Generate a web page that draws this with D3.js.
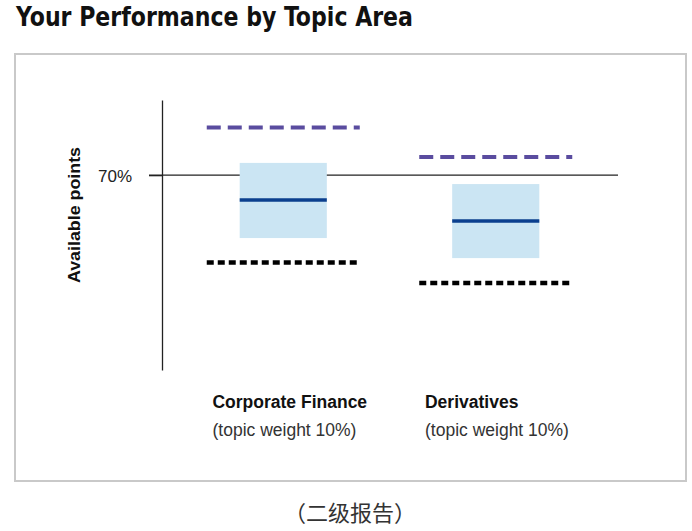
<!DOCTYPE html>
<html>
<head>
<meta charset="utf-8">
<script src="https://cdn.jsdelivr.net/npm/d3@7"></script>
<style>
  body { margin: 0; background: #fff; }
  svg { display: block; }
</style>
</head>
<body>
<svg id="chart" width="692" height="531"></svg>
<script>
// values are % of available points
const topics = ["Corporate Finance", "Derivatives"];
const weights = ["(topic weight 10%)", "(topic weight 10%)"];
const topScore = [87.1, 76.5];    // purple dashed line
const rangeHigh = [74.4, 66.8];   // top of blue box
const yourScore = [61.1, 53.5];   // dark blue line
const rangeLow = [47.4, 40.2];    // bottom of blue box
const passLine = [38.6, 31.3];    // black dotted line
const refTicks = [70];
const yMax = 97;

const svg = d3.select("#chart");

// title
svg.append("text")
  .attr("x", 16)
  .attr("y", 26)
  .attr("font-family", "DejaVu Sans Condensed, DejaVu Sans")
  .attr("font-weight", "bold")
  .attr("font-size", 26)
  .attr("fill", "#111")
  .attr("textLength", 397)
  .attr("lengthAdjust", "spacingAndGlyphs")
  .text("Your Performance by Topic Area");

// panel
svg.append("rect")
  .attr("x", 15).attr("y", 54)
  .attr("width", 671).attr("height", 427)
  .attr("fill", "#fff")
  .attr("stroke", "#c9c9c9")
  .attr("stroke-width", 2);

const axisX = 162;
const y = d3.scaleLinear().domain([0, yMax]).range([370, 100]);
const x = d3.scaleBand().domain(topics).range([177, 602]).padding(0);
const bw = x.bandwidth();
const cx = d => x(d) + bw / 2;

const g = svg.append("g");

// reference line at 70%
g.selectAll(".ref")
  .data(refTicks)
  .enter().append("line")
  .attr("class", "ref")
  .attr("x1", 149).attr("x2", 618)
  .attr("y1", d => y(d)).attr("y2", d => y(d))
  .attr("stroke", "#222")
  .attr("stroke-width", 1.3);

// y axis
const yAxis = g.append("g")
  .attr("transform", "translate(" + axisX + ",0)")
  .call(d3.axisLeft(y).tickValues(refTicks).tickSize(13).tickSizeOuter(0).tickPadding(17)
    .tickFormat(d => d + "%"));
yAxis.select(".domain").attr("stroke", "#222").attr("stroke-width", 1.3);
yAxis.selectAll(".tick line").attr("stroke", "#222").attr("stroke-width", 1.3);
yAxis.selectAll(".tick text")
  .attr("font-family", "Liberation Sans, Arial, sans-serif")
  .attr("font-size", 17)
  .attr("fill", "#222")
  .attr("dy", "0.4em");

svg.append("text")
  .attr("transform", "translate(80," + 215 + ") rotate(-90)")
  .attr("text-anchor", "middle")
  .attr("font-family", "Liberation Sans, Arial, sans-serif")
  .attr("font-weight", "bold")
  .attr("font-size", 16)
  .attr("fill", "#111")
  .attr("textLength", 136)
  .attr("lengthAdjust", "spacingAndGlyphs")
  .text("Available points");

const idx = topics.map((t, i) => i);

// boxes
g.selectAll(".box")
  .data(idx)
  .enter().append("rect")
  .attr("class", "box")
  .attr("x", i => cx(topics[i]) - bw * 0.205)
  .attr("width", bw * 0.41)
  .attr("y", i => y(rangeHigh[i]))
  .attr("height", i => y(rangeLow[i]) - y(rangeHigh[i]))
  .attr("fill", "#cbe5f3");

g.selectAll(".score")
  .data(idx)
  .enter().append("line")
  .attr("class", "score")
  .attr("x1", i => cx(topics[i]) - bw * 0.205)
  .attr("x2", i => cx(topics[i]) + bw * 0.205)
  .attr("y1", i => y(yourScore[i])).attr("y2", i => y(yourScore[i]))
  .attr("stroke", "#0b3f8e")
  .attr("stroke-width", 3.5);

g.selectAll(".top")
  .data(idx)
  .enter().append("line")
  .attr("class", "top")
  .attr("x1", i => cx(topics[i]) - bw * 0.36)
  .attr("x2", i => cx(topics[i]) + bw * 0.36)
  .attr("y1", i => y(topScore[i])).attr("y2", i => y(topScore[i]))
  .attr("stroke", "#5a4c9f")
  .attr("stroke-width", 4)
  .attr("stroke-dasharray", "14,7");

g.selectAll(".pass")
  .data(idx)
  .enter().append("line")
  .attr("class", "pass")
  .attr("x1", i => cx(topics[i]) - bw * 0.36)
  .attr("x2", i => cx(topics[i]) + bw * 0.36)
  .attr("y1", i => y(passLine[i])).attr("y2", i => y(passLine[i]))
  .attr("stroke", "#000")
  .attr("stroke-width", 4.5)
  .attr("stroke-dasharray", "7,4");

// category labels
g.selectAll(".cat")
  .data(idx)
  .enter().append("text")
  .attr("class", "cat")
  .attr("x", i => cx(topics[i]) - bw * 0.333)
  .attr("y", 408)
  .attr("font-family", "Liberation Sans, Arial, sans-serif")
  .attr("font-weight", "bold")
  .attr("font-size", 17.5)
  .attr("fill", "#111")
  .text(i => topics[i]);

g.selectAll(".wt")
  .data(idx)
  .enter().append("text")
  .attr("class", "wt")
  .attr("x", i => cx(topics[i]) - bw * 0.333)
  .attr("y", 436)
  .attr("font-family", "Liberation Sans, Arial, sans-serif")
  .attr("font-size", 17.5)
  .attr("fill", "#333")
  .text(i => weights[i]);

// caption
svg.append("text")
  .attr("x", 350)
  .attr("y", 521)
  .attr("text-anchor", "middle")
  .attr("font-family", "Noto Sans CJK SC")
  .attr("font-size", 22)
  .attr("fill", "#333")
  .text("（二级报告）");
</script>
</body>
</html>
